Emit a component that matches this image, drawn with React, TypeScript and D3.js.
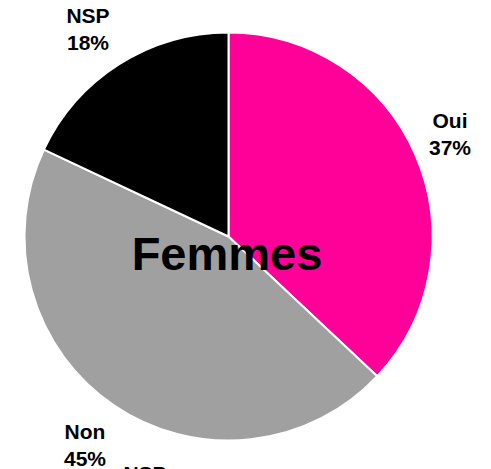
import React, { useEffect, useRef } from 'react';
import * as d3 from 'd3';

// data
const categories = ['Oui', 'Non', 'NSP'];
const values = [37, 45, 18];
const colors = ['#FF0099', '#A0A0A0', '#000000'];
const title = 'Femmes';

const App = () => {
    const svgRef = useRef<SVGSVGElement>(null);

    useEffect(() => {
        const width = 491;
        const height = 469;
        const cx = 228.5;
        const cy = 236.5;
        const radius = 204;

        const svg = d3.select(svgRef.current);
        svg.selectAll('*').remove();

        const items = categories.map((c, i) => ({ label: c, value: values[i], color: colors[i] }));

        const pie = d3.pie<any>()
            .sort(null)
            .value((d) => d.value);

        const arc = d3.arc<any>()
            .innerRadius(0)
            .outerRadius(radius);

        const g = svg.append('g').attr('transform', `translate(${cx},${cy})`);

        g.selectAll('path')
            .data(pie(items))
            .enter()
            .append('path')
            .attr('d', arc)
            .attr('fill', (d) => d.data.color)
            .attr('stroke', '#ffffff')
            .attr('stroke-width', 2)
            .attr('stroke-linejoin', 'round');

        // labels outside the pie
        const labelPos: Record<string, [number, number]> = {
            Oui: [450, 128],
            Non: [85, 439],
            NSP: [88, 23],
        };
        items.forEach((d) => {
            const [x, y] = labelPos[d.label];
            const t = svg.append('text')
                .attr('x', x)
                .attr('y', y)
                .attr('text-anchor', 'middle')
                .style('font-family', 'Liberation Sans, Arial, sans-serif')
                .style('font-weight', 'bold')
                .style('font-size', '21px')
                .attr('fill', '#000');
            t.append('tspan').attr('x', x).text(d.label);
            t.append('tspan').attr('x', x).attr('dy', 27).text(`${d.value}%`);
        });

        // stray label of the next chart, cut by the bottom edge
        svg.append('text')
            .attr('x', 145)
            .attr('y', 481)
            .attr('text-anchor', 'middle')
            .style('font-family', 'Liberation Sans, Arial, sans-serif')
            .style('font-weight', 'bold')
            .style('font-size', '21px')
            .text('NSP');

        svg.append('text')
            .attr('x', 227)
            .attr('y', 270)
            .attr('text-anchor', 'middle')
            .style('font-family', 'Liberation Sans, Arial, sans-serif')
            .style('font-weight', 'bold')
            .style('font-size', '47px')
            .text(title);

        svg.attr('width', width).attr('height', height);
    }, []);

    return (
        <svg
            ref={svgRef}
            style={{ position: 'absolute', left: 0, top: 0, background: '#fff', overflow: 'hidden' }}
        ></svg>
    );
};

export default App;
